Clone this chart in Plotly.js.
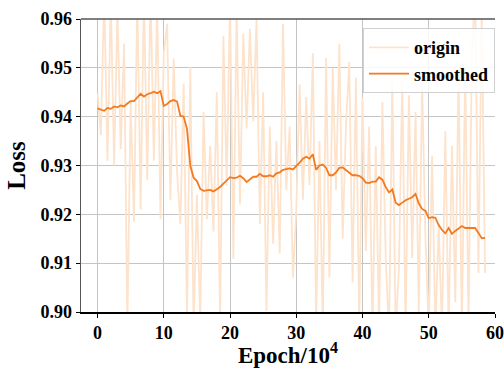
<!DOCTYPE html>
<html>
<head>
<meta charset="utf-8">
<script src="https://cdn.plot.ly/plotly-3.0.1.min.js"></script>
<style>
html,body{margin:0;padding:0;background:#fff;}
#chart{width:504px;height:368px;}
</style>
</head>
<body>
<div id="chart"></div>
<script>
const epochs = [0,0.5,1,1.5,2,2.5,3,3.5,4,4.5,5,5.5,6,6.5,7,7.5,8,8.5,9,9.5,
10,10.5,11,11.5,12,12.5,13,13.5,14,14.5,15,15.5,16,16.5,17,17.5,18,18.5,19,19.5,
20,20.5,21,21.5,22,22.5,23,23.5,24,24.5,25,25.5,26,26.5,27,27.5,28,28.5,29,29.5,
30,30.5,31,31.5,32,32.5,33,33.5,34,34.5,35,35.5,36,36.5,37,37.5,38,38.5,39,39.5,
40,40.5,41,41.5,42,42.5,43,43.5,44,44.5,45,45.5,46,46.5,47,47.5,48,48.5,49,49.5,
50,50.5,51,51.5,52,52.5,53,53.5,54,54.5,55,55.5,56,56.5,57,57.5,58,58.5];

const originLoss = [0.9448,0.9362,0.965,0.9309,0.964,0.9300,0.962,0.9334,0.955,0.897,
0.943,0.9185,0.965,0.921,0.965,0.927,0.966,0.931,0.963,0.919,
0.953,0.959,0.9229,0.9519,0.9287,0.918,0.9468,0.899,0.9502,0.897,
0.924,0.898,0.941,0.919,0.934,0.9165,0.945,0.898,0.9565,0.926,
0.964,0.9109,0.962,0.922,0.957,0.9376,0.958,0.939,0.960,0.918,
0.945,0.9002,0.938,0.914,0.935,0.912,0.959,0.925,0.938,0.907,
0.921,0.9466,0.923,0.944,0.926,0.953,0.897,0.935,0.896,0.952,
0.907,0.950,0.925,0.955,0.915,0.938,0.9512,0.906,0.948,0.897,
0.944,0.9125,0.938,0.896,0.934,0.897,0.943,0.911,0.895,0.948,
0.896,0.909,0.948,0.896,0.9444,0.911,0.941,0.900,0.947,0.915,
0.896,0.932,0.896,0.918,0.896,0.937,0.896,0.934,0.902,0.949,
0.896,0.951,0.897,0.952,0.966,0.908,0.962,0.908];

const smoothedLoss = [0.9417,0.9415,0.9412,0.9418,0.9416,0.9421,0.9419,0.9423,0.9421,0.9427,
0.9432,0.9432,0.9440,0.9447,0.9441,0.9446,0.9448,0.9451,0.9448,0.9452,
0.9422,0.9426,0.9432,0.9434,0.9431,0.9402,0.9400,0.9375,0.9300,0.9275,
0.9268,0.9252,0.9248,0.9249,0.9250,0.9247,0.9251,0.9256,0.9263,0.9270,
0.9276,0.9274,0.9275,0.9279,0.9274,0.9266,0.9272,0.9277,0.9277,0.9283,
0.9278,0.9278,0.9280,0.9277,0.9284,0.9286,0.9291,0.9293,0.9294,0.9292,
0.9298,0.9306,0.9314,0.9318,0.9314,0.9323,0.9291,0.9300,0.9302,0.9295,
0.9280,0.9280,0.9286,0.9295,0.9296,0.9291,0.9286,0.9280,0.9280,0.9279,
0.9274,0.9265,0.9264,0.9267,0.9267,0.9276,0.9271,0.9256,0.9245,0.9251,
0.9224,0.9219,0.9224,0.9229,0.9232,0.9235,0.9242,0.9222,0.9211,0.9207,
0.9192,0.9194,0.9193,0.9178,0.9168,0.9161,0.9172,0.9160,0.9166,0.9172,
0.9176,0.9172,0.9172,0.9172,0.9172,0.9162,0.9151,0.9152];

const xTicks = [0,10,20,30,40,50,60];
const yTicks = [0.90,0.91,0.92,0.93,0.94,0.95,0.96];
const yTickText = ['0.90','0.91','0.92','0.93','0.94','0.95','0.96'];

const serif = 'Liberation Serif, Times New Roman, serif';

const traces = [
  {x: epochs, y: originLoss, type: 'scatter', mode: 'lines', name: 'origin',
   line: {color: '#fde3cc', width: 1.8}},
  {x: epochs, y: smoothedLoss, type: 'scatter', mode: 'lines', name: 'smoothed',
   line: {color: '#f47a20', width: 1.8}}
];

const layout = {
  width: 504, height: 368,
  margin: {l: 81, r: 9, t: 19, b: 56, pad: 0},
  paper_bgcolor: '#fff', plot_bgcolor: '#fff',
  showlegend: true,
  legend: {x: 1, xanchor: 'right', y: 0.969, yanchor: 'top',
    bgcolor: 'rgba(255,255,255,0.85)', bordercolor: '#d0d0d0', borderwidth: 1,
    font: {family: serif, size: 18, color: '#000', weight: 'bold'},
    itemwidth: 40, tracegroupgap: 0},
  xaxis: {
    range: [-2.5, 60], tickvals: xTicks, ticktext: xTicks.map(String),
    showgrid: true, gridcolor: '#c4c4c4', gridwidth: 1,
    zeroline: false, showline: true, linecolor: '#000', linewidth: 1.5,
    ticks: 'outside', ticklen: 4, tickcolor: '#000',
    tickfont: {family: serif, size: 18, color: '#000', weight: 'bold'},
    title: {text: 'Epoch/10<sup>4</sup>', standoff: 4,
      font: {family: serif, size: 23, color: '#000', weight: 'bold'}}
  },
  yaxis: {
    range: [0.90, 0.96], tickvals: yTicks, ticktext: yTickText,
    showgrid: true, gridcolor: '#c4c4c4', gridwidth: 1,
    zeroline: false, showline: true, linecolor: '#555', linewidth: 1.5,
    ticks: 'outside', ticklen: 4, tickcolor: '#000',
    tickfont: {family: serif, size: 18, color: '#000', weight: 'bold'},
    title: {text: 'Loss', standoff: 7,
      font: {family: serif, size: 25, color: '#000', weight: 'bold'}}
  },
  shapes: [
    {type: 'line', xref: 'paper', yref: 'paper', x0: 0, x1: 1, y0: 1, y1: 1,
     line: {color: '#555', width: 1.5}}
  ]
};

Plotly.newPlot('chart', traces, layout, {displayModeBar: false, staticPlot: true});
</script>
</body>
</html>
